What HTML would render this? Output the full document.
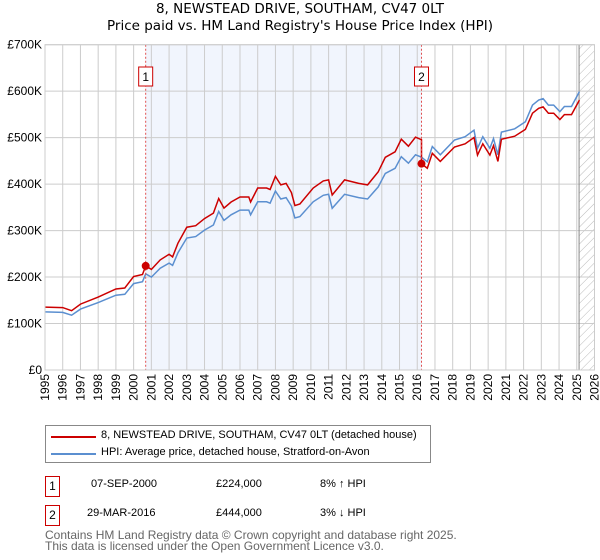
<!DOCTYPE html>
<html><head><meta charset="utf-8"><style>
body{margin:0;background:#fff;font-family:"Liberation Sans","DejaVu Sans",sans-serif;}
#wrap{position:relative;width:600px;height:560px;overflow:hidden;}
.t{position:absolute;font-size:11px;color:#000;white-space:nowrap;}
.box{position:absolute;border:1px solid #c00;background:#fff;font-size:12px;text-align:center;}
</style></head><body>
<div id="wrap">
<div class="t" style="left:0;width:600px;text-align:center;top:1px;font-size:13.5px;font-family:'DejaVu Sans',sans-serif;">8, NEWSTEAD DRIVE, SOUTHAM, CV47 0LT</div>
<div class="t" style="left:0;width:600px;text-align:center;top:18px;font-size:13.5px;font-family:'DejaVu Sans',sans-serif;">Price paid vs. HM Land Registry's House Price Index (HPI)</div>
<svg id="chart" width="600" height="420" style="position:absolute;left:0;top:0;font-family:'Liberation Sans','DejaVu Sans',sans-serif;"></svg>
<div style="position:absolute;left:45px;top:425px;width:384px;height:36px;border:1px solid #888;">
 <div><div style="position:absolute;left:5px;top:10px;width:45px;height:2px;background:#c00"></div><div class="t" style="left:55px;top:3px;">8, NEWSTEAD DRIVE, SOUTHAM, CV47 0LT (detached house)</div></div>
 <div><div style="position:absolute;left:5px;top:27px;width:45px;height:2px;background:#5b8fd0"></div><div class="t" style="left:55px;top:20px;">HPI: Average price, detached house, Stratford-on-Avon</div></div>
</div>
<div>
 <div class="box" style="left:45px;top:476px;width:13px;height:19px;line-height:19px;">1</div>
 <div class="t" style="left:91px;top:478px;">07-SEP-2000</div>
 <div class="t" style="left:216px;top:478px;">£224,000</div>
 <div class="t" style="left:320px;top:478px;">8% ↑ HPI</div>
</div>
<div>
 <div class="box" style="left:45px;top:505px;width:13px;height:19px;line-height:19px;">2</div>
 <div class="t" style="left:87px;top:507px;">29-MAR-2016</div>
 <div class="t" style="left:216px;top:507px;">£444,000</div>
 <div class="t" style="left:320px;top:507px;">3% ↓ HPI</div>
</div>
<div class="t" style="left:45px;top:530px;color:#666;line-height:11px;font-size:12px;">Contains HM Land Registry data © Crown copyright and database right 2025.<br>This data is licensed under the Open Government Licence v3.0.</div>
</div>
<script>
const hpiYears=[1995,1996,1996.5,1997,1998,1999,1999.5,2000,2000.5,2000.68,2001,2001.5,2002,2002.2,2002.5,2003,2003.5,2004,2004.5,2004.8,2005.1,2005.5,2006,2006.5,2006.6,2007,2007.5,2007.7,2008,2008.3,2008.6,2008.9,2009.1,2009.38,2010.13,2010.7,2011,2011.2,2011.9,2012.7,2013.2,2013.8,2014.2,2014.75,2015.1,2015.5,2015.9,2016.24,2016.57,2016.85,2017.3,2018.1,2018.7,2019.2,2019.4,2019.7,2020.1,2020.3,2020.55,2020.75,2021.5,2022.1,2022.5,2022.85,2023.1,2023.4,2023.7,2024.05,2024.3,2024.7,2025.15];
const hpiValues=[125,124,118,131,145,161,163,186,190,207,200,219,230,225,252,284,287,301,312,341,322,334,344,344,334,362,362,359,385,368,371,353,327,330,362,376,378,348,378,371,368,394,423,434,459,445,463,458,448,481,463,495,502,516,477,502,477,498,463,512,519,534,570,581,584,570,570,556,567,567,599];
const saleYears=[2000.68,2016.24];
const salePrices=[224,444];
const yTicks=[0,100,200,300,400,500,600,700];
const yTickLabels=["£0","£100K","£200K","£300K","£400K","£500K","£600K","£700K"];
const xTicks=[1995,1996,1997,1998,1999,2000,2001,2002,2003,2004,2005,2006,2007,2008,2009,2010,2011,2012,2013,2014,2015,2016,2017,2018,2019,2020,2021,2022,2023,2024,2025,2026];

const L=45,R=594.5,T=44.7,B=370,X0=1995,X1=2026,YMAX=700,DATA_END=2025.13;
const sx=v=>L+(v-X0)/(X1-X0)*(R-L);
const sy=v=>B-v/YMAX*(B-T);
const svg=document.getElementById('chart');const NS='http://www.w3.org/2000/svg';
function mk(tag,attrs,parent){const e=document.createElementNS(NS,tag);for(const k in attrs)e.setAttribute(k,attrs[k]);(parent||svg).appendChild(e);return e;}
const defs=mk('defs',{});
const pat=mk('pattern',{id:'hatch',width:6,height:6,patternUnits:'userSpaceOnUse',patternTransform:'rotate(45)'},defs);
mk('line',{x1:0,y1:0,x2:0,y2:6,stroke:'#bbb','stroke-width':1},pat);
const shade=mk('rect',{x:sx(saleYears[0]),y:T,width:sx(saleYears[1])-sx(saleYears[0]),height:B-T,fill:'#eef3fd',opacity:0.8});


const hatch=mk('rect',{x:sx(DATA_END),y:T,width:R-sx(DATA_END),height:B-T,fill:'url(#hatch)'});


xTicks.forEach(v=>{const g=mk('line',{x1:sx(v),x2:sx(v),y1:T,y2:B,stroke:'#ccc','stroke-width':1});


const tx=mk('text',{x:0,y:0,'font-size':12,'text-anchor':'end',transform:`translate(${sx(v)+4},${B+4}) rotate(-90)`});tx.textContent=v;

});
yTicks.forEach((v,i)=>{const g=mk('line',{x1:L,x2:R,y1:sy(v),y2:sy(v),stroke:'#ccc','stroke-width':1});


const tx=mk('text',{x:L-3,y:sy(v)+4,'font-size':12,'text-anchor':'end'});tx.textContent=yTickLabels[i];

});
const endLine=mk('line',{x1:sx(DATA_END),x2:sx(DATA_END),y1:T,y2:B,stroke:'#888','stroke-width':1});


function hpiAt(y){for(let i=0;i<hpiYears.length-1;i++){if(y>=hpiYears[i]&&y<=hpiYears[i+1]){const f=(y-hpiYears[i])/(hpiYears[i+1]-hpiYears[i]);return hpiValues[i]+f*(hpiValues[i+1]-hpiValues[i]);}}return hpiValues[hpiValues.length-1];}
const f1=salePrices[0]/hpiAt(saleYears[0]),f2=salePrices[1]/hpiAt(saleYears[1]);
let pb='',pr='';
hpiYears.forEach((y,i)=>{pb+=(i?'L':'M')+sx(y).toFixed(1)+','+sy(hpiValues[i]).toFixed(1);});
let first=true;
hpiYears.forEach((y,i)=>{const f=y<saleYears[1]?f1:f2;
 if(i>0&&hpiYears[i-1]<saleYears[1]&&y>=saleYears[1]){pr+='L'+sx(saleYears[1]).toFixed(1)+','+sy(hpiAt(saleYears[1])*f1).toFixed(1)+'L'+sx(saleYears[1]).toFixed(1)+','+sy(salePrices[1]).toFixed(1);}
 pr+=(first?'M':'L')+sx(y).toFixed(1)+','+sy(hpiValues[i]*f).toFixed(1);first=false;});
const hl=mk('path',{d:pb,fill:'none',stroke:'#5b8fd0','stroke-width':1.5});


const rl=mk('path',{d:pr,fill:'none',stroke:'#cc0000','stroke-width':1.5});


saleYears.forEach((y,i)=>{const v=mk('line',{x1:sx(y),x2:sx(y),y1:T,y2:B,stroke:'#e05050','stroke-width':1,'stroke-dasharray':'2,2'});


const d=mk('circle',{cx:sx(y),cy:sy(salePrices[i]),r:4,fill:'#cc0000'});


const b=mk('rect',{x:sx(y)-7,y:67,width:14,height:19,fill:'#fff',stroke:'#c00'});


const t=mk('text',{x:sx(y),y:81,'font-size':12,'text-anchor':'middle'});t.textContent=i+1;

});
const fr=mk('rect',{x:L,y:T,width:R-L,height:B-T,fill:'none',stroke:'#ccc'});


</script>
</body></html>
